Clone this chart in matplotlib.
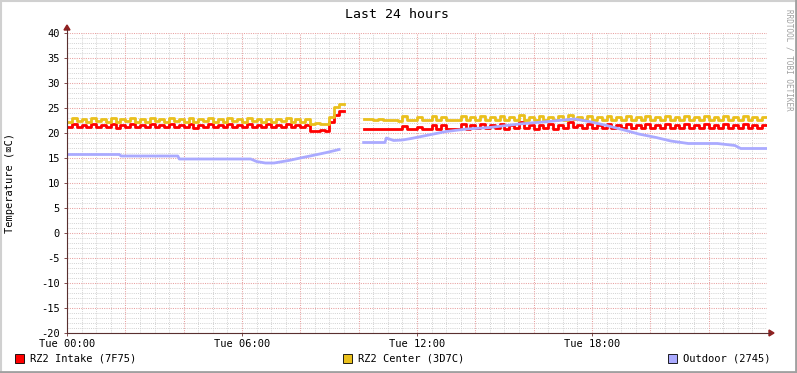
import matplotlib
matplotlib.use("Agg")
import matplotlib.pyplot as plt
import numpy as np
from matplotlib.patches import Rectangle

nan = float("nan")

# 10-minute samples, Tue 00:00 .. 24:00
intake = [21.2, 21.8, 21.3, 21.7, 21.2, 21.9, 21.3, 21.6, 21.2, 21.8, 21.1, 21.7,
          21.3, 21.8, 21.2, 21.6, 21.2, 21.9, 21.3, 21.7, 21.2, 21.8, 21.3, 21.6,
          21.2, 21.8, 21.1, 21.7, 21.3, 21.8, 21.2, 21.6, 21.2, 21.9, 21.3, 21.7,
          21.2, 21.8, 21.3, 21.6, 21.2, 21.8, 21.2, 21.7, 21.3, 21.8, 21.2, 21.6,
          21.2, 21.7, 20.5, 20.5, 20.6, 20.5, 22.3, 23.6, 24.4,
          nan, nan, nan, nan,
          20.8, 20.8, 20.8, 20.8, 20.8, 20.8, 20.8, 20.8, 21.5, 20.8, 20.8, 21.3,
          20.9, 20.9, 21.7, 20.9, 21.6, 20.8, 20.8, 20.9, 21.8, 20.9, 21.7, 21.0,
          21.8, 21.0, 21.6, 21.0, 21.8, 20.9, 21.7, 21.0, 22.2, 21.0, 21.6, 20.9,
          21.7, 21.0, 21.8, 20.9, 21.6, 21.0, 22.3, 21.2, 21.7, 21.0, 21.8, 21.1,
          21.7, 21.0, 21.8, 21.1, 21.6, 21.0, 21.8, 21.1, 21.7, 21.0, 21.9, 21.1,
          21.7, 21.0, 21.8, 21.1, 21.6, 21.0, 21.8, 21.1, 21.7, 21.0, 21.8, 21.1,
          21.7, 21.0, 21.8, 21.1, 21.7, 21.0, 21.8, 21.1, 21.7, 21.1, 21.6]

center = [22.3, 23.0, 22.4, 22.9, 22.3, 23.1, 22.4, 22.8, 22.2, 23.0, 22.3, 22.9,
          22.4, 23.0, 22.3, 22.8, 22.3, 23.1, 22.4, 22.9, 22.3, 23.0, 22.4, 22.8,
          22.3, 23.0, 22.2, 22.9, 22.4, 23.0, 22.3, 22.8, 22.3, 23.0, 22.4, 22.9,
          22.3, 23.0, 22.4, 22.8, 22.3, 22.9, 22.3, 22.9, 22.4, 23.0, 22.3, 22.8,
          22.3, 22.9, 21.9, 22.0, 21.9, 21.9, 23.3, 25.2, 25.9,
          nan, nan, nan, nan,
          22.8, 22.8, 22.7, 22.8, 22.7, 22.7, 22.6, 22.5, 23.5, 22.6, 22.6, 23.2,
          22.6, 22.7, 23.4, 22.6, 23.3, 22.6, 22.7, 22.6, 23.4, 22.6, 23.3, 22.7,
          23.4, 22.6, 23.3, 22.7, 23.5, 22.6, 23.3, 22.7, 23.6, 22.7, 23.3, 22.6,
          23.4, 22.7, 23.3, 22.6, 23.4, 22.7, 23.6, 22.8, 23.3, 22.6, 23.4, 22.7,
          23.3, 22.6, 23.4, 22.7, 23.3, 22.6, 23.4, 22.7, 23.3, 22.6, 23.5, 22.7,
          23.3, 22.6, 23.4, 22.7, 23.3, 22.6, 23.4, 22.7, 23.3, 22.6, 23.4, 22.7,
          23.3, 22.6, 23.4, 22.7, 23.3, 22.6, 23.4, 22.7, 23.3, 22.7, 23.2]

outdoor_hours = [0, 1.8, 1.85, 3.8, 3.85, 6.3, 6.5, 6.8, 7.1, 7.6, 8.0, 8.5, 8.9, 9.33,
                 9.34,
                 10.17, 10.9, 10.95, 11.2, 11.5, 11.8, 12.4, 13.0, 13.7, 14.5, 15.5,
                 16.5, 17.4, 17.9, 18.5, 19.1, 19.6, 20.2, 20.7, 21.3, 22.3, 22.9,
                 23.1, 24.0]
outdoor = [15.7, 15.7, 15.4, 15.4, 14.8, 14.8, 14.3, 14.0, 14.0, 14.5, 15.0, 15.6, 16.1, 16.7,
           nan,
           18.1, 18.1, 19.0, 18.5, 18.6, 18.9, 19.6, 20.3, 20.8, 21.1, 21.8,
           22.3, 22.8, 22.3, 21.5, 20.6, 19.8, 19.1, 18.4, 17.9, 17.9, 17.5,
           16.9, 16.9]

labels = ["RZ2 Intake (7F75)", "RZ2 Center (3D7C)", "Outdoor (2745)"]
colors = ["#FF0000", "#EAC01C", "#AAAAFF"]
xtick_hours = [0, 6, 12, 18]
xtick_labels = ["Tue 00:00", "Tue 06:00", "Tue 12:00", "Tue 18:00"]

W, H = 797, 373
fig = plt.figure(figsize=(W / 100, H / 100), dpi=100)
fig.patch.set_facecolor("white")
mono = "DejaVu Sans Mono"

x0, x1, ytop, ybot = 67, 767, 33, 333
ax = fig.add_axes([x0 / W, (H - ybot) / H, (x1 - x0) / W, (ybot - ytop) / H])
ax.set_facecolor("white")

t = np.arange(len(intake)) / 6.0
t_ext = np.append(t, 24.0)
lw = 2.0
for vals, c in [(intake, colors[0]), (center, colors[1])]:
    v = np.append(vals, vals[-1])
    ax.plot(t_ext, v, color=c, lw=lw, drawstyle="steps-post", zorder=3)
ax.plot(outdoor_hours, outdoor, color=colors[2], lw=lw, zorder=4)
ax.set_xlim(0, 24)
ax.set_ylim(-20, 40)

# grid: minor gray every 30 min / 1 degree, major red every 2 h / 5 degrees
minor_c = "#D2D2D2"
major_c = "#E8A0A0"
dots = (0, (1, 1.2))
for h in np.arange(0.5, 24, 0.5):
    if abs(h % 2) > 1e-6:
        ax.axvline(h, color=minor_c, lw=0.7, ls=dots, zorder=1)
for y in range(-20, 41):
    if y % 5:
        ax.axhline(y, color=minor_c, lw=0.7, ls=dots, zorder=1)
for h in range(0, 25, 2):
    ax.axvline(h, color=major_c, lw=0.75, ls=dots, zorder=1)
for y in range(-20, 41, 5):
    ax.axhline(y, color=major_c, lw=0.75, ls=dots, zorder=1)

for s in ax.spines.values():
    s.set_visible(False)
ax.set_xticks(xtick_hours)
ax.set_xticklabels(xtick_labels, fontfamily=mono, fontsize=7.5)
ax.set_yticks(range(-20, 41, 5))
ax.set_yticklabels([str(v) for v in range(-20, 41, 5)], fontfamily=mono, fontsize=7.5)
ax.tick_params(axis="both", length=2, width=0.6, color="#703030")
ax.tick_params(axis="x", pad=2)
ax.tick_params(axis="y", pad=3)

# axes with arrows
axis_col = "#5A3030"
fig.add_artist(plt.Line2D([x0 / W, (x1 + 3) / W], [(H - ybot) / H] * 2, color=axis_col, lw=0.8))
fig.add_artist(plt.Line2D([x0 / W] * 2, [(H - ybot) / H, (H - 29) / H], color=axis_col, lw=0.8))
fig.add_artist(plt.Polygon([[(x1 + 2) / W, (H - ybot + 3) / H], [(x1 + 2) / W, (H - ybot - 3) / H],
                            [(x1 + 7) / W, (H - ybot) / H]], closed=True, color="#902020"))
fig.add_artist(plt.Polygon([[(x0 - 3) / W, (H - 30) / H], [(x0 + 3) / W, (H - 30) / H],
                            [x0 / W, (H - 25) / H]], closed=True, color="#902020"))

# title, labels, watermark
fig.text(397 / W, 1 - 14 / H, "Last 24 hours", ha="center", va="center", fontfamily=mono, fontsize=9.5)
fig.text(10 / W, 1 - 183 / H, "Temperature (\u2327C)", rotation=90, ha="center", va="center",
         fontfamily=[mono, "DejaVu Sans"], fontsize=7.5)
fig.text(789 / W, 1 - 60 / H, "RRDTOOL / TOBI OETIKER", rotation=270, ha="center", va="center",
         fontfamily=mono, fontsize=5.5, color="#A0A0A0")

# legend
leg_x = [15, 343, 668]
for lx, lab, c in zip(leg_x, labels, colors):
    fig.add_artist(Rectangle((lx / W, 1 - 363 / H), 9 / W, 9 / H, facecolor=c, edgecolor="black", lw=0.6))
    fig.text((lx + 15) / W, 1 - 358.5 / H, lab, ha="left", va="center", fontfamily=mono, fontsize=7.5)

# frame
fig.add_artist(plt.Line2D([0, 1], [1 - 0.5 / H] * 2, color="#D0D0D0", lw=1.5))
fig.add_artist(plt.Line2D([0.5 / W] * 2, [0, 1], color="#D0D0D0", lw=1.5))
fig.add_artist(plt.Line2D([0, 1], [1 / H] * 2, color="#A0A0A0", lw=2))
fig.add_artist(plt.Line2D([1 - 1 / W] * 2, [0, 1], color="#A0A0A0", lw=2))

fig.savefig("out.png", dpi=100)
